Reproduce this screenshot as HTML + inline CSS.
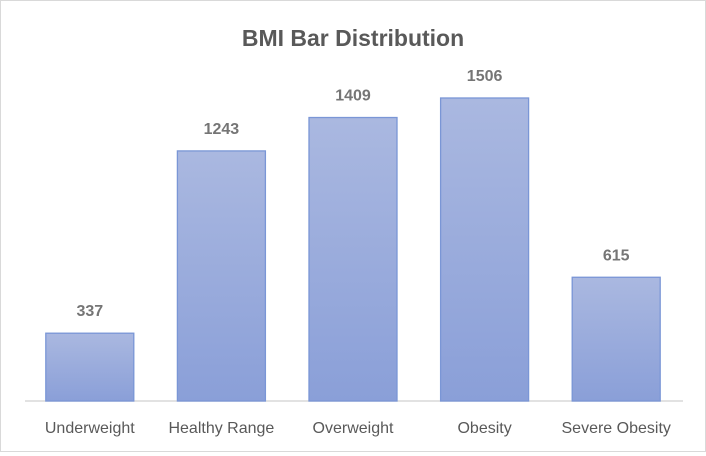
<!DOCTYPE html>
<html><head><meta charset="utf-8"><style>
body{margin:0;background:#fff}
#c{position:relative;width:706px;height:452px;box-sizing:border-box;border:1px solid #d9d9d9;background:#fff;font-family:"Liberation Sans",sans-serif}
</style></head><body>
<div id="c">
<svg id="s" width="704" height="450">
<defs><linearGradient id="g" x1="0" y1="0" x2="0" y2="1"><stop offset="0" stop-color="#aab8e0"/><stop offset="1" stop-color="#8a9fd8"/></linearGradient></defs>
<text x="352" y="45" text-anchor="middle" font-size="23" font-weight="bold" fill="#595959">BMI Bar Distribution</text>
<line x1="24" y1="400" x2="682" y2="400" stroke="#d9d9d9" stroke-width="1.5"/>
<g id="bars"></g>
</svg>
</div>
<script>
const categories=["Underweight","Healthy Range","Overweight","Obesity","Severe Obesity"];
const values=[337,1243,1409,1506,615];
const x0=23,x1=681,base=400,scale=(400-97)/1506,bw=88;
const step=(x1-x0)/categories.length;
const xs=i=>x0+step*(i+0.5);
const ys=v=>base-v*scale;
const g=document.getElementById('bars');
const ns="http://www.w3.org/2000/svg";
categories.forEach((c,i)=>{
 const r=document.createElementNS(ns,'rect');
 r.setAttribute('x',xs(i)-bw/2);r.setAttribute('y',ys(values[i]));
 r.setAttribute('width',bw);r.setAttribute('height',base-ys(values[i]));
 r.setAttribute('fill','url(#g)');r.setAttribute('stroke','#7a96d6');r.setAttribute('stroke-width','1.3');
 
 
 g.appendChild(r);
 const t=document.createElementNS(ns,'text');
 t.setAttribute('x',xs(i));t.setAttribute('y',ys(values[i])-17);
 t.setAttribute('text-anchor','middle');t.setAttribute('font-size','16');t.setAttribute('font-weight','bold');t.setAttribute('fill','#757575');
 t.textContent=values[i];
 
 
 g.appendChild(t);
 const l=document.createElementNS(ns,'text');
 l.setAttribute('x',xs(i));l.setAttribute('y',432);
 l.setAttribute('text-anchor','middle');l.setAttribute('font-size','16');l.setAttribute('fill','#595959');
 l.textContent=c;
 
 
 g.appendChild(l);
});
</script>
</body></html>
